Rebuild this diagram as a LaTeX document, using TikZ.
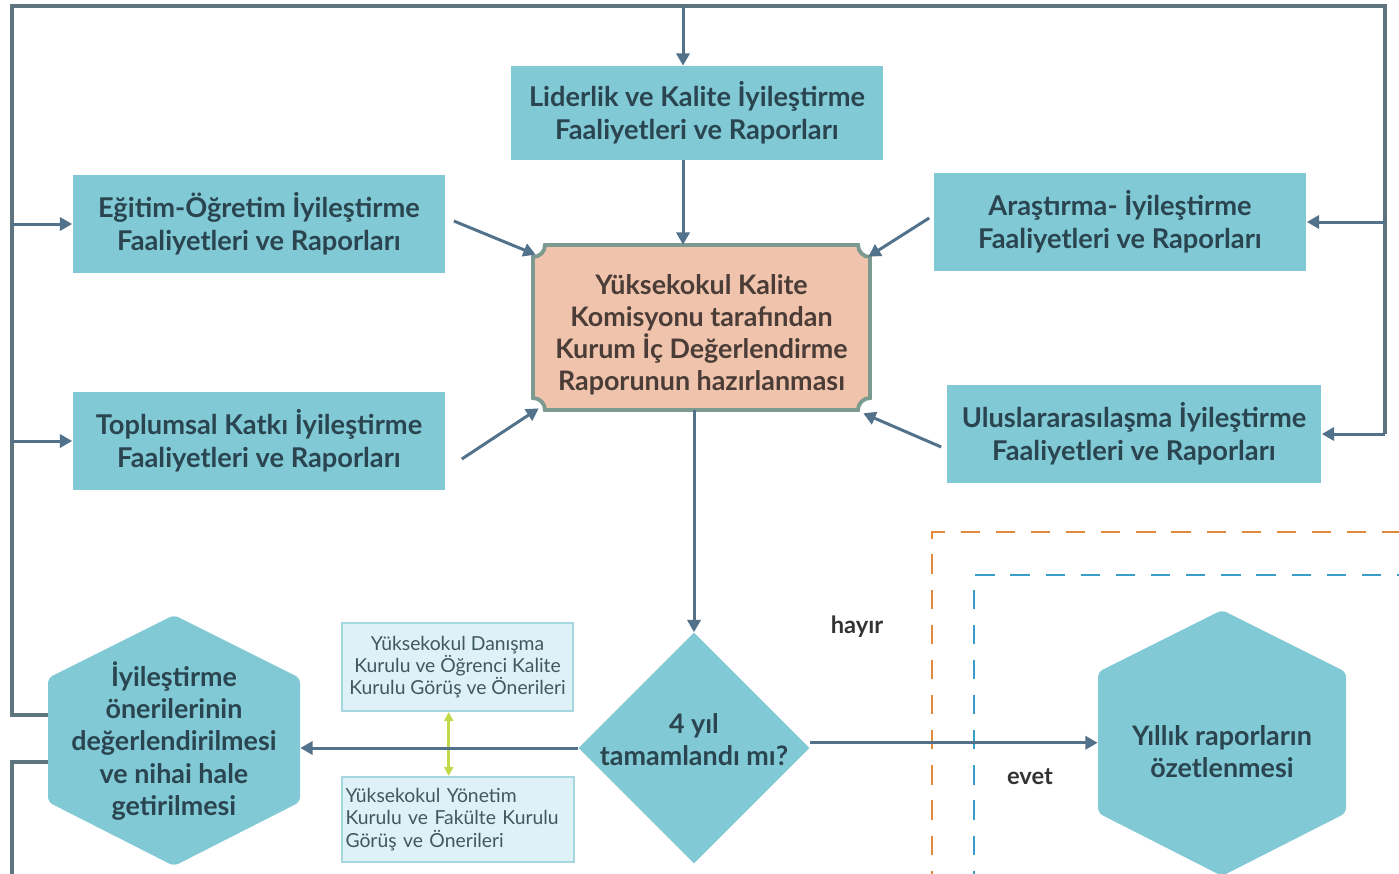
\documentclass[tikz,border=0pt]{standalone}
\usepackage{fontspec}
\setmainfont{Lato}
\usetikzlibrary{arrows.meta,shapes.geometric,calc}
\definecolor{boxteal}{HTML}{80C9D5}
\definecolor{txtdark}{HTML}{2A4550}
\definecolor{arrowblue}{HTML}{52718A}
\definecolor{frameblue}{HTML}{5E7580}
\definecolor{salmon}{HTML}{F0C3AC}
\definecolor{komborder}{HTML}{7D9A90}
\definecolor{komtext}{HTML}{4A3C36}
\definecolor{lightcyan}{HTML}{DDF1F6}
\definecolor{lightborder}{HTML}{A6D6DF}
\definecolor{yelgreen}{HTML}{C5D84A}
\definecolor{dashorange}{HTML}{E08A3C}
\definecolor{dashblue}{HTML}{3A9FC8}
\tikzset{
  flowbox/.style={fill=boxteal, minimum width=7.46cm, minimum height=1.96cm, align=center,
    text=txtdark, font=\fontsize{15.5}{18.8}\selectfont\bfseries},
  flowarrow/.style={draw=arrowblue, line width=1.7pt, -{Triangle[length=7pt,width=7.5pt]}},
  frameline/.style={draw=frameblue, line width=1.8pt},
  smallbox/.style={fill=lightcyan, draw=lightborder, line width=1.2pt, minimum width=4.62cm,
    text=txtdark!90, font=\fontsize{11}{12.6}\selectfont},
  bigtext/.style={text=txtdark, align=center, font=\fontsize{15.3}{18.3}\selectfont\bfseries},
  lbl/.style={text=black!80, font=\fontsize{13.5}{16}\selectfont\bfseries},
  dashline/.style={line width=1.6pt, dash pattern=on 11pt off 9pt}
}
\begin{document}
\begin{tikzpicture}[x=0.02cm,y=-0.02cm]
\clip (0,0) rectangle (1399,873);
%\draw[step=50,gray,very thin] (0,0) grid (1399,873);
\coordinate (tl) at (12,6);
\coordinate (tr) at (1385,6);
\coordinate (tm) at (683,6);
\coordinate (lup) at (12,715);
\coordinate (ldown) at (12,762);
\coordinate (lend) at (12,890);

% dashed frames
\draw[dashline, dashorange] (932,890) -- (932,532) -- (1420,532);
\draw[dashline, dashblue] (974,890) -- (974,575) -- (1420,575);

% boxes
\node[flowbox, minimum height=1.88cm] (lid) at (697,113) {Liderlik ve Kalite İyileştirme\\Faaliyetleri ve Raporları};
\node[flowbox] (egt) at (259,224) {Eğitim-Öğretim İyileştirme\\Faaliyetleri ve Raporları};
\node[flowbox] (ars) at (1120,222) {Araştırma- İyileştirme\\Faaliyetleri ve Raporları};
\node[flowbox] (tps) at (259,441) {Toplumsal Katkı İyileştirme\\Faaliyetleri ve Raporları};
\node[flowbox, minimum width=7.5cm] (intl) at (1134,434) {Uluslararasılaşma İyileştirme\\Faaliyetleri ve Raporları};

% komisyon box with cut corners
\fill[salmon] (545,245) -- (858,245) arc (180:90:12) -- (870,398) arc (270:180:12)
  -- (545,410) arc (0:-90:12) -- (533,257) arc (90:0:12) -- cycle;
\draw[komborder, line width=2.2pt] (545,245) -- (858,245) arc (180:90:12) -- (870,398) arc (270:180:12)
  -- (545,410) arc (0:-90:12) -- (533,257) arc (90:0:12) -- cycle;
\node[minimum width=6.74cm, minimum height=3.3cm,
  label={[bigtext, text=komtext, yshift=-4pt]center:Yüksekokul Kalite\\Komisyonu tarafından\\Kurum İç Değerlendirme\\Raporunun hazırlanması}]
  (kom) at (701.5,327.5) {};

% decision
\node[diamond, aspect=1, fill=boxteal, inner sep=0pt, minimum width=4.62cm, minimum height=4.62cm,
  label={[bigtext, yshift=5pt]center:4 yıl\\tamamlandı mı?}] (dia) at (694,748) {};

% hexagons
\fill[boxteal, rounded corners=3pt] (174,615) -- (300,678) -- (300,802) -- (174,866) -- (48,802) -- (48,678) -- cycle;
\node[bigtext, minimum width=5.04cm, minimum height=5.02cm] (hexL) at (174,741)
  {İyileştirme\\önerilerinin\\değerlendirilmesi\\ve nihai hale\\getirilmesi};
\fill[boxteal, rounded corners=3pt] (1222,610) -- (1346,672) -- (1346,813) -- (1222,876) -- (1098,813) -- (1098,672) -- cycle;
\node[bigtext, minimum width=4.96cm, minimum height=5.3cm] (hexR) at (1222,752)
  {Yıllık raporların\\özetlenmesi};

% small boxes
\node[smallbox, minimum height=1.76cm, align=center] (dan) at (457.5,667)
  {Yüksekokul Danışma\\Kurulu ve Öğrenci Kalite\\Kurulu Görüş ve Önerileri};
\node[smallbox, minimum height=1.7cm, text width=4.5cm, inner xsep=2pt, align=left] (ynt) at (458,819.5)
  {Yüksekokul Yönetim\\Kurulu ve Fakülte Kurulu\\Görüş ve Önerileri};
\draw[yelgreen, line width=1.5pt, {Triangle[length=5pt,width=5pt]}-{Triangle[length=5pt,width=5pt]}]
  ([xshift=-5]dan.south) -- ([xshift=-5]dan.south |- ynt.north);

% frame lines
\draw[frameline] (hexL.west |- lup) -- (lup) -- (tl) -- (tr) -- (tr |- intl.east);
\draw[frameline] (hexL.west |- ldown) -- (ldown) -- (lend);
\draw[flowarrow] (tr |- intl.east) -- (intl.east);
\draw[flowarrow] (tr |- ars.east) -- (ars.east);
\draw[flowarrow] (tl |- egt.west) -- (egt.west);
\draw[flowarrow] (tl |- tps.west) -- (tps.west);
\draw[flowarrow] (tm) -- (tm |- lid.north);

% into komisyon
\draw[flowarrow] (tm |- lid.south) -- (tm |- kom.north);
\draw[flowarrow] ([shift={(8,-3)}]egt.east) -- ([shift={(3,10)}]kom.north west);
\draw[flowarrow] ([shift={(-4,-4)}]ars.west) -- ([shift={(-2,12)}]kom.north east);
\draw[flowarrow] ([shift={(16,18)}]tps.east) -- ([shift={(6,-2)}]kom.south west);
\draw[flowarrow] ([shift={(-5,13)}]intl.west) -- ([shift={(-7,3)}]kom.south east);

% out of komisyon
\draw[flowarrow] (dia.north |- kom.south) -- (dia.north);
\draw[flowarrow] (dia.west) -- (dia.west -| hexL.east);
\draw[flowarrow] ([yshift=3pt]dia.east) -- ([yshift=3pt]dia.east -| hexR.west);

\node[lbl] (hayir) at (857,627) {hayır};
\node[lbl] (evet) at (1030,777) {evet};
\end{tikzpicture}
\end{document}
